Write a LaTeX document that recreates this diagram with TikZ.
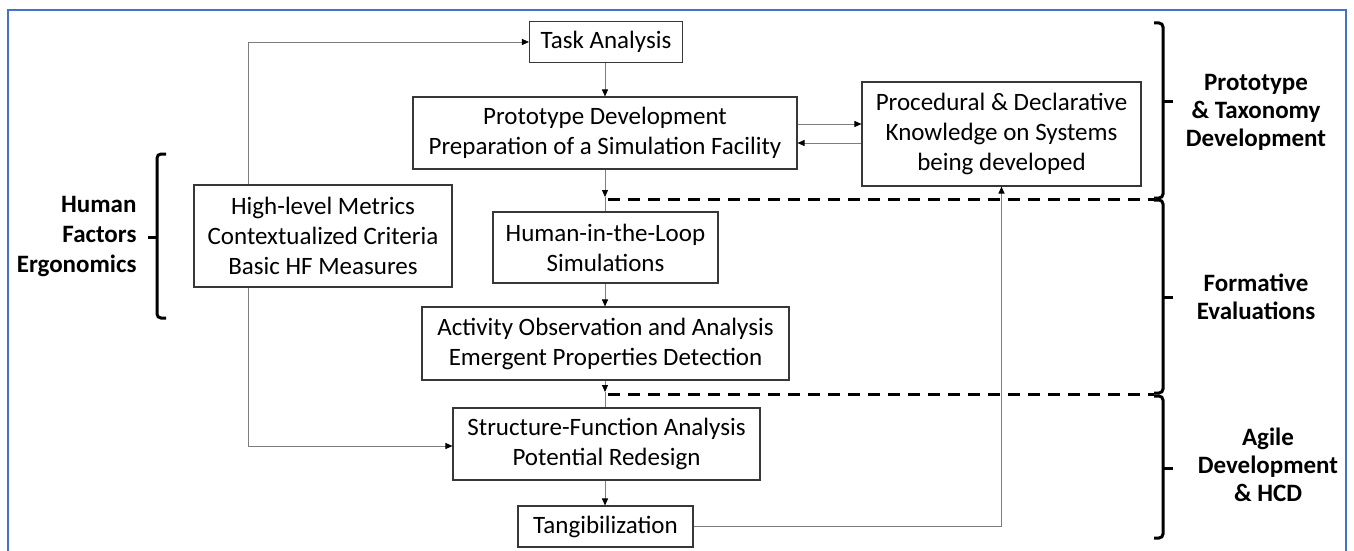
\documentclass[tikz,border=0pt]{standalone}
\usepackage{fontspec}
\setmainfont{Carlito}
\usetikzlibrary{arrows.meta}
\definecolor{frameblue}{RGB}{68,114,196}
\definecolor{boxline}{RGB}{55,55,55}
\definecolor{connline}{RGB}{125,125,125}
\begin{document}
\begin{tikzpicture}[x=1pt,y=-1pt,
  box/.style={draw=boxline, line width=1.1pt, fill=white, align=center, inner sep=0pt,
    font=\fontsize{25}{30}\selectfont},
  conn/.style={draw=connline, line width=0.9pt, -{Triangle[length=7pt,width=6pt,fill=black,color=black]}},
  plainline/.style={draw=connline, line width=0.9pt},
  dashline/.style={draw=black, line width=3pt, dash pattern=on 12pt off 8pt},
  bracestyle/.style={draw=black, line width=3pt, rounded corners=4pt},
  sidelabel/.style={align=center, font=\fontsize{25}{28}\selectfont\bfseries}
]
\useasboundingbox (0,0) rectangle (1354,551);
\draw[frameblue, line width=2.5pt] (8,555) -- (8,10) -- (1346,10) -- (1346,555);

% boxes
\node[box, minimum width=153pt, minimum height=41pt] (task) at (606,42) {Task Analysis};
\node[box, minimum width=384pt, minimum height=72pt] (proto) at (605,133) {Prototype Development\\Preparation of a Simulation Facility};
\node[box, minimum width=279pt, minimum height=104pt] (proc) at (1001.5,134) {Procedural \& Declarative\\Knowledge on Systems\\being developed};
\node[box, minimum width=258pt, minimum height=102pt] (hlm) at (323,236) {High-level Metrics\\Contextualized Criteria\\Basic HF Measures};
\node[box, minimum width=225pt, minimum height=71pt] (hitl) at (605.5,247.5) {Human-in-the-Loop\\Simulations};
\node[box, minimum width=367pt, minimum height=73pt] (act) at (605.5,343.5) {Activity Observation and Analysis\\Emergent Properties Detection};
\node[box, minimum width=307pt, minimum height=72pt] (sfa) at (606.5,444) {Structure-Function Analysis\\Potential Redesign};
\node[box, minimum width=175pt, minimum height=41pt] (tang) at (605.5,526.5) {Tangibilization};

% junction points on dashed lines
\coordinate (d1) at (605,197);
\coordinate (d1e) at (1154,199);
\coordinate (d2) at (605,392);
\coordinate (d2e) at (1154,394);

% connectors
\draw[conn] (proto.north |- task.south) -- (proto.north);
\draw[conn] (proto.south) -- (d1);
\draw[plainline] (d1) -- (d1 |- hitl.north);
\draw[conn] (d1 |- hitl.south) -- (d1 |- act.north);
\draw[conn] (d1 |- act.south) -- (d2);
\draw[plainline] (d2) -- (d2 |- sfa.north);
\draw[conn] (d1 |- sfa.south) -- (d1 |- tang.north);
\draw[conn] ([yshift=9pt]proto.east) -- ([yshift=9pt]proto.east -| proc.west);
\draw[conn] ([yshift=-9pt]proc.west) -- ([yshift=-9pt]proc.west -| proto.east);
\draw[conn] ([xshift=-75pt]hlm.north) |- (task.west);
\draw[conn] ([xshift=-75pt]hlm.south) |- ([yshift=-2pt]sfa.west);
\draw[conn] (tang.east) -| (proc.south);

% dashed phase separators
\draw[dashline] ([xshift=3pt]d1 |- d1e) -- (d1e);
\draw[dashline] ([xshift=3pt]d2 |- d2e) -- (d2e);

% right braces
\draw[bracestyle] (1154,23) -- (1163,23) -- (1163,198) -- (1154,198);
\draw[black, line width=3pt] (1163,101) -- (1173,101);
\draw[bracestyle] (1154,200) -- (1163,200) -- (1163,393) -- (1154,393);
\draw[black, line width=3pt] (1163,297) -- (1173,297);
\draw[bracestyle] (1154,396) -- (1163,396) -- (1163,538) -- (1154,538);
\draw[black, line width=3pt] (1163,468) -- (1173,468);

% left brace
\draw[bracestyle] (166,154) -- (157,154) -- (157,318) -- (166,318);
\draw[black, line width=3pt] (157,237) -- (148,237);

% labels
\node[sidelabel] (lab1) at (1256,112) {Prototype\\\& Taxonomy\\Development};
\node[sidelabel] (lab2) at (1256,297) {Formative\\Evaluations};
\node[sidelabel] (lab3) at (1268,465) {Agile\\Development\\\& HCD};
\node[sidelabel, align=right, anchor=east, font=\fontsize{25}{30}\selectfont\bfseries] (lab4) at (140,237) {Human\\Factors\\Ergonomics};
\end{tikzpicture}
\end{document}
